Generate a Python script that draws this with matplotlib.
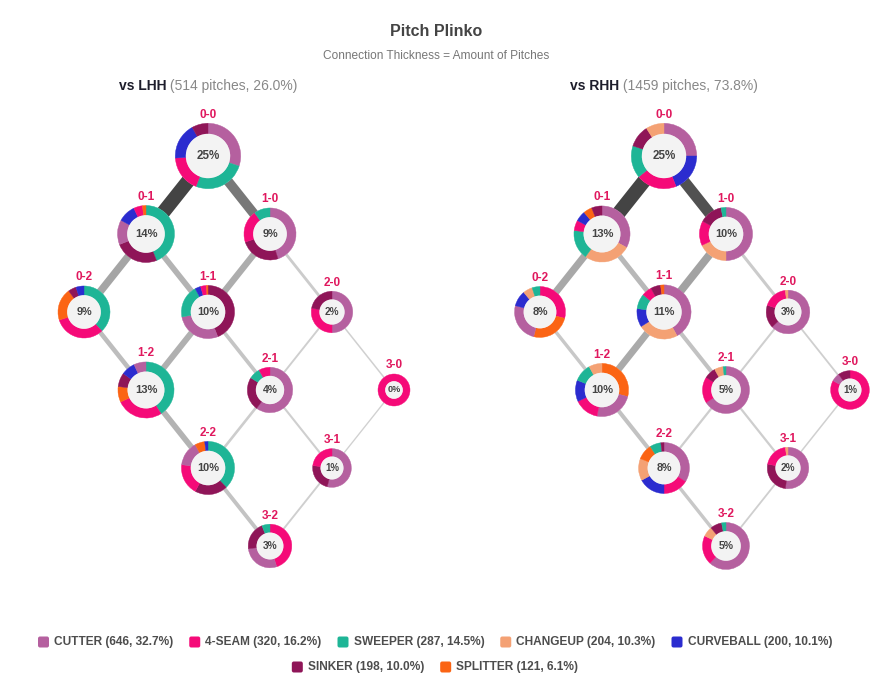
import matplotlib.pyplot as plt
import numpy as np
from matplotlib.patches import Wedge, Circle, FancyBboxPatch

plt.rcParams['font.family'] = ['Liberation Sans', 'DejaVu Sans']

# Legend / pitch arsenal
pitches = ['CUTTER', '4-SEAM', 'SWEEPER', 'CHANGEUP', 'CURVEBALL', 'SINKER', 'SPLITTER']
pitch_counts = [646, 320, 287, 204, 200, 198, 121]
pitch_shares = [32.7, 16.2, 14.5, 10.3, 10.1, 10.0, 6.1]
pitch_colors = {
    'CUTTER': '#b5609f',
    '4-SEAM': '#f50a78',
    'SWEEPER': '#1eb596',
    'CHANGEUP': '#f4a174',
    'CURVEBALL': '#2b2ccf',
    'SINKER': '#8f1558',
    'SPLITTER': '#fb6414',
}

# Ball-strike counts
counts = ['0-0', '0-1', '1-0', '0-2', '1-1', '2-0', '1-2', '2-1', '3-0', '2-2', '3-1', '3-2']

# share of pitches thrown in each count
lhh_pct = [25, 14, 9, 9, 10, 2, 13, 4, 0, 10, 1, 3]
rhh_pct = [25, 13, 10, 8, 11, 3, 10, 5, 1, 8, 2, 5]

# pitch mix per count (drawn clockwise from 12 o'clock)
lhh_mix = {
    '0-0': [('CUTTER', 30), ('SWEEPER', 26), ('4-SEAM', 18), ('CURVEBALL', 18), ('SINKER', 8)],
    '0-1': [('SWEEPER', 44), ('SINKER', 25), ('CUTTER', 14), ('CURVEBALL', 10), ('4-SEAM', 5), ('SPLITTER', 2)],
    '1-0': [('CUTTER', 45), ('SINKER', 25), ('4-SEAM', 20), ('SWEEPER', 10)],
    '0-2': [('SWEEPER', 38), ('4-SEAM', 32), ('SPLITTER', 20), ('SINKER', 5), ('CURVEBALL', 5)],
    '1-1': [('SINKER', 44), ('CUTTER', 28), ('SWEEPER', 20), ('CURVEBALL', 3.5), ('4-SEAM', 3.5), ('SPLITTER', 1)],
    '2-0': [('CUTTER', 50), ('4-SEAM', 28), ('SINKER', 22)],
    '1-2': [('SWEEPER', 41), ('4-SEAM', 27), ('SPLITTER', 9), ('SINKER', 8), ('CURVEBALL', 8), ('CUTTER', 7)],
    '2-1': [('CUTTER', 60), ('SINKER', 24), ('SWEEPER', 8), ('4-SEAM', 8)],
    '3-0': [('4-SEAM', 100)],
    '2-2': [('SWEEPER', 38), ('SINKER', 20), ('4-SEAM', 19), ('CUTTER', 15), ('SPLITTER', 6), ('CURVEBALL', 2)],
    '3-1': [('CUTTER', 54), ('SINKER', 23), ('4-SEAM', 23)],
    '3-2': [('4-SEAM', 45), ('CUTTER', 28), ('SINKER', 21), ('SWEEPER', 6)],
}
rhh_mix = {
    '0-0': [('CUTTER', 25), ('CURVEBALL', 19), ('4-SEAM', 20), ('SWEEPER', 16), ('SINKER', 11), ('CHANGEUP', 9)],
    '0-1': [('CUTTER', 33), ('CHANGEUP', 27), ('SWEEPER', 17), ('4-SEAM', 6), ('CURVEBALL', 6), ('SPLITTER', 5), ('SINKER', 6)],
    '1-0': [('CUTTER', 50), ('CHANGEUP', 18), ('4-SEAM', 15), ('SINKER', 14), ('SWEEPER', 3)],
    '0-2': [('4-SEAM', 29), ('SPLITTER', 25), ('CUTTER', 25), ('CURVEBALL', 10), ('CHANGEUP', 6), ('SWEEPER', 5)],
    '1-1': [('CUTTER', 42), ('CHANGEUP', 24), ('CURVEBALL', 11), ('SWEEPER', 9), ('4-SEAM', 6), ('SINKER', 6), ('SPLITTER', 2)],
    '2-0': [('CUTTER', 63), ('SINKER', 17), ('4-SEAM', 18), ('CHANGEUP', 2)],
    '1-2': [('SPLITTER', 29), ('CUTTER', 24), ('4-SEAM', 15), ('CURVEBALL', 13), ('SWEEPER', 11), ('CHANGEUP', 8)],
    '2-1': [('CUTTER', 66), ('4-SEAM', 18), ('SINKER', 8), ('CHANGEUP', 6), ('SWEEPER', 2)],
    '3-0': [('4-SEAM', 83), ('CUTTER', 7), ('SINKER', 10)],
    '2-2': [('CUTTER', 34), ('4-SEAM', 16), ('CURVEBALL', 17), ('CHANGEUP', 14), ('SPLITTER', 10), ('SWEEPER', 7), ('SINKER', 2)],
    '3-1': [('CUTTER', 52), ('SINKER', 26), ('4-SEAM', 20), ('CHANGEUP', 2)],
    '3-2': [('CUTTER', 62), ('4-SEAM', 20), ('CHANGEUP', 7), ('SINKER', 8), ('SWEEPER', 3)],
}

# count transitions and the pitches flowing along them
transitions = [('0-0', '0-1'), ('0-0', '1-0'), ('0-1', '0-2'), ('0-1', '1-1'), ('1-0', '1-1'),
               ('1-0', '2-0'), ('0-2', '1-2'), ('1-1', '1-2'), ('1-1', '2-1'), ('2-0', '2-1'),
               ('2-0', '3-0'), ('1-2', '2-2'), ('2-1', '2-2'), ('2-1', '3-1'), ('3-0', '3-1'),
               ('2-2', '3-2'), ('3-1', '3-2')]
lhh_flow = [72, 48, 36, 26, 30, 10, 20, 28, 15, 5, 3, 26, 9, 6, 2, 16, 5]
rhh_flow = [190, 146, 90, 60, 100, 30, 35, 85, 45, 15, 12, 45, 18, 18, 8, 35, 12]

fig = plt.figure(figsize=(8.91, 6.86), dpi=100)
ax = fig.add_axes([0, 0, 1, 1])
ax.set_xlim(0, 891)
ax.set_ylim(686, 0)
ax.set_aspect('equal')
ax.axis('off')
renderer = fig.canvas.get_renderer()

DX, DY, Y0 = 62, 78, 156
count_color = '#e0185e'


def text_width(t):
    return t.get_window_extent(renderer=renderer).width


def draw_panel(cx, pct, mix, flow, side, n, share):
    pos = {}
    for c in counts:
        b, s = map(int, c.split('-'))
        pos[c] = (cx + DX * (b - s), Y0 + DY * (b + s))

    # connections
    fmax = max(flow)
    for (a, b), f in zip(transitions, flow):
        frac = f / fmax
        w = 1 + 13 * frac
        g = np.interp(frac, [0, 0.15, 0.35, 0.53, 0.67, 0.77, 1.0],
                      [210, 204, 180, 162, 119, 80, 68]) / 255
        ax.plot([pos[a][0], pos[b][0]], [pos[a][1], pos[b][1]], lw=w * 0.72,
                color=(g, g, g), solid_capstyle='butt', zorder=1)

    # donuts
    for c, p in zip(counts, pct):
        x, y = pos[c]
        r = 16 + 3.34 * np.sqrt(p)
        t = 4 + 0.2 * r
        ax.add_patch(Circle((x, y), r, fc='white', ec='none', zorder=2))
        total = sum(v for _, v in mix[c])
        start = 0
        for name, v in mix[c]:
            span = 360 * v / total
            col = pitch_colors[name]
            ax.add_patch(Wedge((x, y), r, -90 + start, -90 + start + span, width=t,
                               fc=col, ec=col, lw=0.3, zorder=3))
            start += span
        ax.add_patch(Circle((x, y), r - t, fc='#f3f3f3', ec='none', zorder=4))
        fs = min(8.4, 4.7 + 0.12 * r)
        ax.text(x, y, f'{p}%', ha='center', va='center', fontsize=fs,
                fontweight='bold', color='#444444', zorder=5)
        ax.text(x, y - r - 8.5, c, ha='center', va='center', fontsize=8.5,
                fontweight='bold', color=count_color, zorder=5)

    # header
    t1 = ax.text(0, 86, f'vs {side}', fontsize=10, fontweight='bold',
                 color='#1d1d2b', va='center', ha='left')
    t2 = ax.text(0, 86, f' ({n} pitches, {share:.1f}%)', fontsize=10,
                 color='#888888', va='center', ha='left')
    w1, w2 = text_width(t1), text_width(t2)
    left = cx - (w1 + w2) / 2
    t1.set_x(left)
    t2.set_x(left + w1)


draw_panel(208, lhh_pct, lhh_mix, lhh_flow, 'LHH', 514, 26.0)
draw_panel(664, rhh_pct, rhh_mix, rhh_flow, 'RHH', 1459, 73.8)

ax.text(436, 32, 'Pitch Plinko', ha='center', va='center', fontsize=11.5,
        fontweight='bold', color='#444444')
ax.text(436, 56, 'Connection Thickness = Amount of Pitches', ha='center',
        va='center', fontsize=8.6, color='#777777')

# legend, two centred rows
rows = [[0, 1, 2, 3, 4], [5, 6]]
row_y = [642, 667]
sq, pad, gap = 11, 5, 16
for row, ly in zip(rows, row_y):
    items = []
    for i in row:
        t = ax.text(0, ly, f'{pitches[i]} ({pitch_counts[i]}, {pitch_shares[i]:.1f}%)',
                    fontsize=8.6, fontweight='bold', color='#4d4d4d',
                    va='center', ha='left')
        items.append((i, t, text_width(t)))
    total = sum(sq + pad + w for _, _, w in items) + gap * (len(items) - 1)
    x = 435 - total / 2
    for i, t, w in items:
        ax.add_patch(FancyBboxPatch((x, ly - sq / 2), sq, sq,
                                    boxstyle='round,pad=0,rounding_size=2',
                                    fc=pitch_colors[pitches[i]], ec='none'))
        t.set_x(x + sq + pad)
        x += sq + pad + w + gap

fig.savefig('out.png', dpi=100)
